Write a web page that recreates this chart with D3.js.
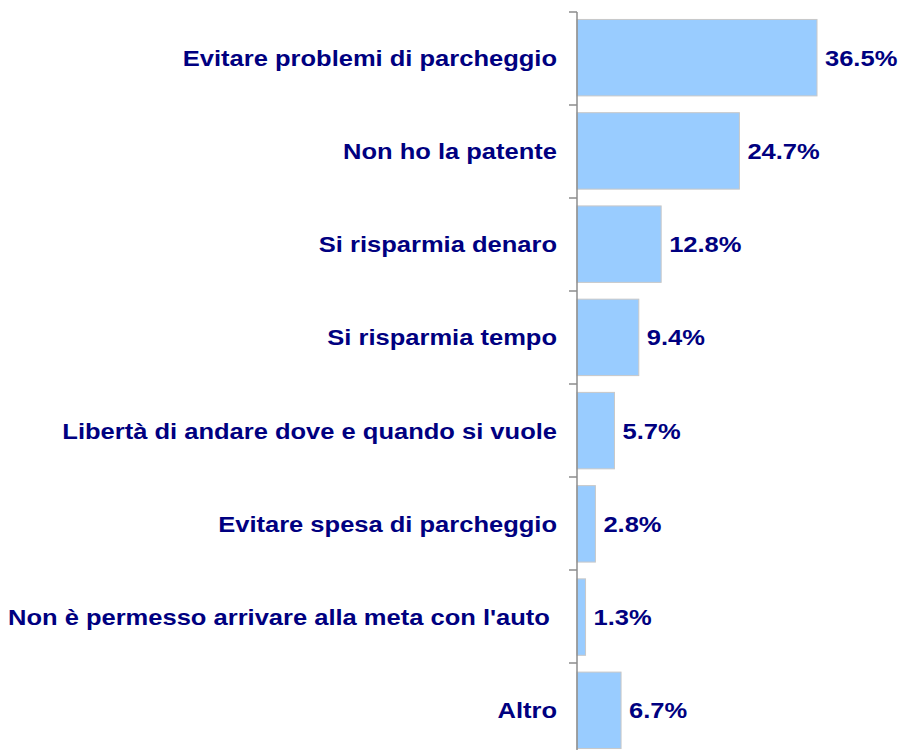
<!DOCTYPE html>
<html><head><meta charset="utf-8">
<script src="https://cdn.jsdelivr.net/npm/d3@7"></script>
<style>body{margin:0;background:#fff} text{white-space:pre}</style>
</head><body>
<script>
const categories = ["Evitare problemi di parcheggio","Non ho la patente","Si risparmia denaro","Si risparmia tempo","Libertà di andare dove e quando si vuole","Evitare spesa di parcheggio","Non è permesso arrivare alla meta con l'auto ","Altro"];
const values = [36.5,24.7,12.8,9.4,5.7,2.8,1.3,6.7];
const valueLabels = ["36.5%","24.7%","12.8%","9.4%","5.7%","2.8%","1.3%","6.7%"];

const W=905,H=750;
const svg=d3.select("body").append("svg").attr("width",W).attr("height",H);
const x0=577;
const x=d3.scaleLinear().domain([0,36.5]).range([x0,817]);
const y=d3.scaleBand().domain(categories).range([12,12+93*8]).paddingInner(0.18).paddingOuter(0.08);
const sx=1.16;

const g=svg.append("g");
g.selectAll("rect.bar").data(values).join("rect")
 .attr("x",x(0)).attr("y",(d,i)=>y(categories[i]))
 .attr("width",d=>x(d)-x(0)).attr("height",y.bandwidth())
 .attr("fill","#99ccff").attr("stroke","#c8c8c8").attr("stroke-width",1);

g.append("line").attr("x1",x0).attr("x2",x0).attr("y1",12).attr("y2",12+93*8).attr("stroke","#8c8c8c").attr("stroke-width",1.5);
const tickYs=d3.range(categories.length+1).map(i=>12+93*i);
g.selectAll("line.tick").data(tickYs).join("line")
 .attr("x1",x0-8).attr("x2",x0).attr("y1",d=>d).attr("y2",d=>d).attr("stroke","#8c8c8c").attr("stroke-width",1.5);

g.selectAll("text.cat").data(categories).join("text")
 .attr("transform",d=>`translate(557,${y(d)+y.bandwidth()/2}) scale(${sx},1)`).attr("dy","0.36em")
 .attr("text-anchor","end").attr("font-family","Liberation Sans, Arial, sans-serif")
 .attr("font-weight","bold").attr("font-size","22px").attr("fill","#000080").text(d=>d);

g.selectAll("text.val").data(values).join("text")
 .attr("transform",(d,i)=>`translate(${x(d)+8},${y(categories[i])+y.bandwidth()/2}) scale(${sx},1)`).attr("dy","0.36em")
 .attr("font-family","Liberation Sans, Arial, sans-serif")
 .attr("font-weight","bold").attr("font-size","22px").attr("fill","#000080").text((d,i)=>valueLabels[i]);
</script>
</body></html>
